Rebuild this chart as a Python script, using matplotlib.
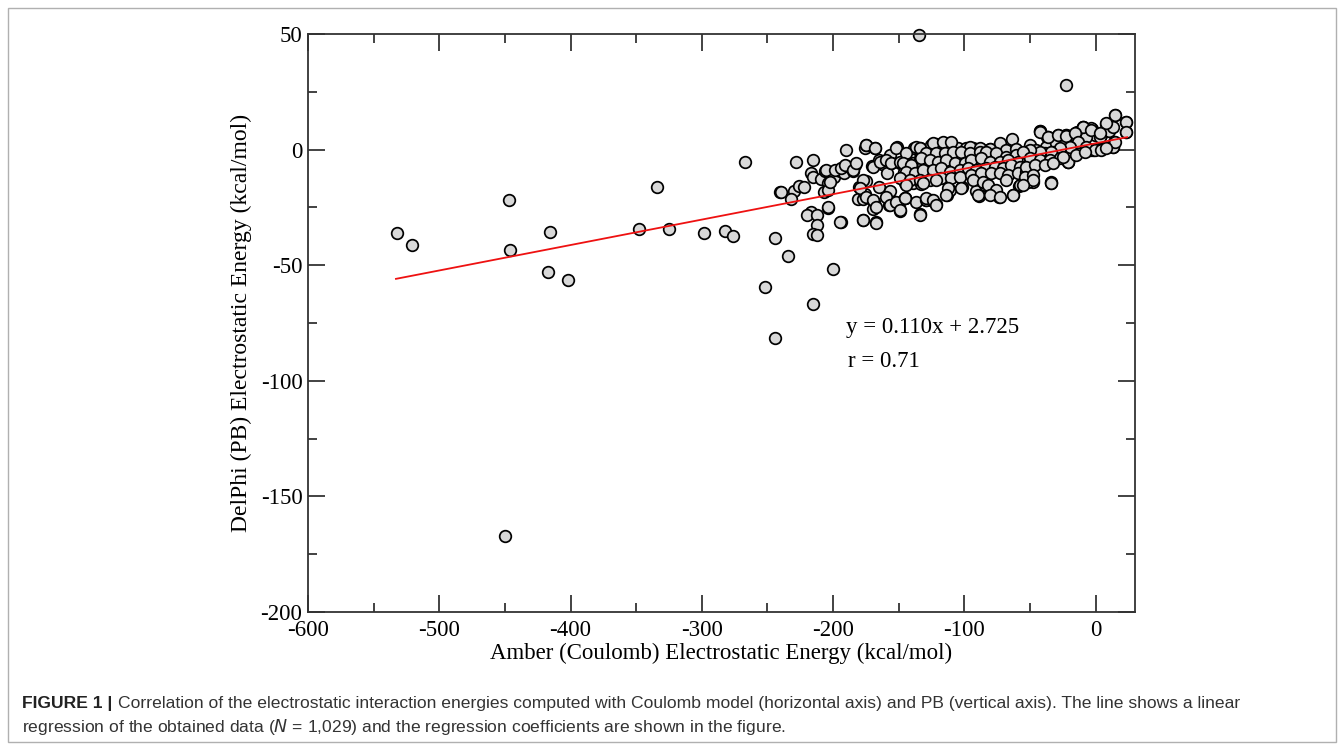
import matplotlib
matplotlib.use("Agg")
import matplotlib.pyplot as plt
from matplotlib.patches import Rectangle
from matplotlib.ticker import MultipleLocator
import numpy as np

plt.rcParams['axes.unicode_minus'] = False

# Outliers (Amber x, DelPhi y) in kcal/mol
outlier_x = [-532, -521, -447, -446, -450, -416, -417, -402, -348, -334, -325, -298,
             -282, -276, -267, -244, -234, -252, -215, -200, -244, -134.5, -22.3]
outlier_y = [-36, -41.4, -21.8, -43.4, -167, -35.5, -52.8, -56.3, -34.5, -16, -34.3, -36.2,
             -35.1, -37.4, -5.5, -38.2, -46, -59.3, -66.8, -51.5, -81.6, 49.4, 27.8]

# Points between -245 and -90
mid_x = [-228, -215, -217, -215, -209, -206, -202, -204, -199, -195, -192, -190, -190, -185,
         -183, -176, -175, -168, -170, -165, -163, -159, -157, -156, -151, -149, -146, -142,
         -140, -138, -134, -132, -131.5, -125.6, -121.8, -115.5, -110.4, -116.3, -110.4, -105,
         -98.5, -240.7, -239.4, -230, -226, -222, -232, -207, -204, -202, -180, -175, -181,
         -177, -175.7, -168.6, -169.6, -165, -157.6, -156.4, -152.8, -149.8, -149.3, -145.4,
         -145, -139, -133, -129, -125.6, -121.3, -133.5, -113, -111, -102, -91.4, -89, -84.5,
         -78, -73.8, -63, -58, -47.7, -34, -21, -217, -219.6, -212, -212, -215, -212, -204,
         -194, -177, -167,
         -175.2, -168.3, -151.8, -205.1, -198.8, -193.7, -191.2, -184.8, -182.3, -177.2,
         -169.6, -164.5, -159.4, -155.6, -149.3, -144.2, -139.1, -134.0, -131.5, -179.7,
         -174.6, -169.6, -167.1, -159.4, -156.9, -151.8, -149.3, -145.5, -136.6, -129.0,
         -134.0, -203.9, -195.0, -177.2, -167.1]
mid_y = [-5.5, -4.5, -10.3, -11.7, -12.6, -9.1, -10.6, -14.3, -11.7, -9.1, -10, -7, 0, -9.1,
         -6.5, 0.7, 2.1, 0.7, -7.1, -4.5, -6.2, -10, -2.5, -5.7, 1, -5.9, -9.5, -2.2,
         -6.8, 0.7, 0.7, -3.3, -7.4, 2, 2.4, 3, 3, -2.2, -0.5, 0.5,
         0.5, -18.5, -18.5, -17.9, -15.6, -16, -21.4, -18.5, -17.5, -14.2, -16, -13.4, -21.4,
         -21.5, -19.2, -22.5, -25.6, -16, -23.8, -17.8, -22.5, -24.7, -26.6, -20.8,
         -14.6, -14.6, -14.9, -21.7, -21.8, -23.7, -27.9, -19.6, -17.5, -16.3, -17.8, -19.9, -15.3,
         -17.5, -20.4, -19.5, -15.6, -14, -14.3, -5.5, -27, -28.3, -28.3, -32.6, -36.7, -37.1, -25.1,
         -31.5, -30.6, -31.5,
         2.0, 0.5, 0.8, -8.8, -8.8, -8.1, -6.7, -8.8, -5.9, -13.2,
         -7.4, -5.2, -4.5, -5.9, -5.2, -6.7, -5.9, -4.5, -6.7, -16.8,
         -20.4, -21.8, -24.7, -20.4, -24.0, -22.5, -26.1, -21.1, -22.5, -21.8,
         -28.3, -24.7, -31.2, -30.5, -31.9]

# Dense band from -150 to +25
band_x = [-42.6, -36.8, -28.9, -22.3, -14.4, -9.4, -2.5, 4.3, 8.2, 10.2, 14.5, 13.2, 23.1,
          23.1, 14.3, 13.2, 3.1, -2, -9.6, -18.5, -27.4, -63.7, -67.2, -73.1, -80.7, -87.1,
          -93.4,
          -123.9, -116.3, -109.9, -96.0, -88.4, -80.8, -73.1, -68.0, -60.4, -50.3, -42.7,
          -36.3, -28.7, -22.3, -14.7, -9.7, -3.3, -0.8, -7.1, 3.0,
          -144.2, -136.6, -134.1, -129.0, -121.4, -115.0, -108.7, -102.3, -96.0, -88.4, -83.3,
          -75.7, -68.0, -60.4, -52.8, -45.2, -37.6, -30.0, -22.3, -17.3, -10.9, -4.6, 0.5,
          -146.8, -140.4, -132.8, -126.4, -120.1, -113.7, -107.4, -99.8, -94.7, -87.1, -80.7,
          -73.1, -66.8, -59.2, -51.5, -45.2, -38.9, -32.5, -24.9, -19.8,
          -144.2, -137.9, -131.5, -123.9, -117.6, -111.2, -103.6, -97.2, -90.9, -83.3, -76.9,
          -70.6, -64.2, -57.9, -51.5, -45.2, -38.9, -31.2, -21.1,
          -149.3, -141.7, -134.1, -126.4, -117.6, -109.9, -103.6, -94.7, -87.1, -79.5, -73.1,
          -66.8, -59.2, -52.8,
          -144.2, -131.5, -121.4, -112.5, -102.3, -93.4, -85.8, -82.0, -75.7, -68.0, -57.9,
          -51.5, -33.8,
          -129.0, -123.9, -121.4, -113.7, -89.6, -80.7, -73.1, -63.0, -145.5,
          14.5, 23.3, 23.3, 8.1, -9.7, -3.3, 3.0, -42.7, -36.3, -28.7, -22.4, -16.0, -13.5,
          -7.1, -0.8, 4.3, 13.2, 14.5, -19.8, -27.4, -33.8, -42.7, -50.3, -55.4, -50.3, -42.7,
          -35.1, -27.4, -21.1, -14.7, -8.4, -52.8, -46.5, -38.9, -32.5, -54.1, -47.7, -47.7,
          -55.4, -33.8, -24.9, 8.1]
band_y = [7.9, 5.3, 5.6, 6.2, 7.6, 9.9, 9.1, 6.3, 10.9, 8, 15, 9.6, 12,
          7.5, 3.1, 1, 0.1, -0.2, -0.5, -0.9, -1.3, 4.4, -1.2, 1.3, 0.1, 0.4,
          0.5,
          2.7, 3.1, 3.1, 1.3, 0.5, 0.1, 2.7, -0.2, 0.1, 2.0, 8.2,
          5.6, 6.3, 6.3, 7.0, 9.9, 9.2, 6.3, 5.6, 5.6,
          -1.6, 1.3, 0.5, -1.6, -1.6, -1.6, -0.9, -0.9, -1.6, -0.9, -0.9,
          -1.6, -3.1, -2.3, -1.6, -0.2, 1.3, 2.7, 3.4, 1.3, 0.1, -0.2, 0.1,
          -6.0, -6.7, -3.8, -4.5, -5.2, -4.5, -6.0, -6.0, -4.5, -3.8, -5.2,
          -5.2, -4.5, -5.2, -4.5, -3.1, -1.6, -0.9, -0.9, -0.2,
          -9.5, -10.3, -8.8, -8.8, -8.1, -9.5, -8.8, -8.1, -8.8, -8.1, -7.4,
          -8.1, -6.7, -7.4, -6.7, -6.0, -4.5, -3.8, -5.2,
          -12.4, -13.1, -13.1, -13.1, -12.4, -12.4, -11.7, -11.0, -10.3, -10.3, -10.3,
          -11.0, -10.3, -9.5,
          -15.3, -14.6, -13.1, -16.8, -16.8, -13.1, -13.9, -15.3, -17.5, -13.1, -15.3,
          -13.9, -13.9,
          -21.1, -21.8, -24.0, -19.6, -19.6, -19.6, -20.4, -19.6, -21.1,
          15.0, 12.1, 7.5, 11.4, 9.9, 8.5, 7.0, 7.8, 5.6, 6.3, 5.9, 7.3, 3.4,
          1.3, -0.2, -0.2, 1.3, 3.4, 1.3, 0.5, -0.9, -0.9, -0.2, -0.9, -3.8, -4.5,
          -4.5, -3.8, -5.2, -2.3, -0.9, -7.4, -6.7, -6.7, -6.0, -11.7, -11.0, -13.2,
          -15.3, -14.6, -3.1, 0.5]

# regression reported in the figure
slope, intercept = 0.110, 2.725
fit_range = [-533, 24]

x = np.array(outlier_x + mid_x + band_x)
y = np.array(outlier_y + mid_y + band_y)

serif = ['Liberation Serif', 'DejaVu Serif']

fig = plt.figure(figsize=(13.44, 7.5), dpi=100)
ax = fig.add_axes([308 / 1344, 1 - 612 / 750, 827 / 1344, 578 / 750])

fx = np.array(fit_range)
ax.plot(fx, slope * fx + intercept, color='#ee1111', lw=1.3, zorder=3)
ax.scatter(x, y, s=70, facecolor='#d8d8d8', edgecolor='black', linewidth=1.25,
           zorder=2, clip_on=False)

ax.set_xlim(-600, 30)
ax.set_ylim(-200, 50)
ax.xaxis.set_major_locator(MultipleLocator(100))
ax.xaxis.set_minor_locator(MultipleLocator(50))
ax.yaxis.set_major_locator(MultipleLocator(50))
ax.yaxis.set_minor_locator(MultipleLocator(25))
ax.tick_params(which='both', direction='in', top=True, right=True, color='#222222',
               width=1.2, labelsize=16.5)
ax.tick_params(axis='x', pad=6)
ax.tick_params(axis='y', pad=4)
ax.tick_params(which='major', length=12.5)
ax.tick_params(which='minor', length=6.5)
for lab in ax.get_xticklabels() + ax.get_yticklabels():
    lab.set_fontfamily(serif)
for sp in ax.spines.values():
    sp.set_color('#333333')
    sp.set_linewidth(1.3)

ax.set_xlabel('Amber (Coulomb) Electrostatic Energy (kcal/mol)', fontsize=16.5,
              family=serif, labelpad=1)
ax.set_ylabel('DelPhi (PB) Electrostatic Energy (kcal/mol)', fontsize=17,
              family=serif, labelpad=6)

ax.text(-190, -77, 'y = 0.110x + 2.725', fontsize=16.5, family=serif, va='center')
ax.text(-189, -91.5, 'r = 0.71', fontsize=16.5, family=serif, va='center')

# outer frame of the figure panel
fig.patches.append(Rectangle((8 / 1344, 8 / 750), 1328 / 1344, 734 / 750,
                             transform=fig.transFigure, fill=False,
                             edgecolor='#b0b0b0', lw=1.0))

cap_font = ['Liberation Sans', 'DejaVu Sans']
cap_size = 12.6
head = fig.text(22 / 1344, 1 - 708 / 750, 'FIGURE 1 |', fontsize=cap_size, weight='bold',
                family=cap_font, va='baseline', color='#222222')
r = fig.canvas.get_renderer()
head_end = head.get_window_extent(r).x1
fig.text((head_end + 6) / 1344, 1 - 708 / 750,
         'Correlation of the electrostatic interaction energies computed with Coulomb model '
         '(horizontal axis) and PB (vertical axis). The line shows a linear',
         fontsize=cap_size, family=cap_font, va='baseline', color='#333333')
fig.text(22 / 1344, 1 - 732 / 750,
         'regression of the obtained data ($\\it{N}$ = 1,029) and the regression '
         'coefficients are shown in the figure.',
         fontsize=cap_size, family=cap_font, va='baseline', color='#333333')

fig.savefig('out.png', dpi=100)
